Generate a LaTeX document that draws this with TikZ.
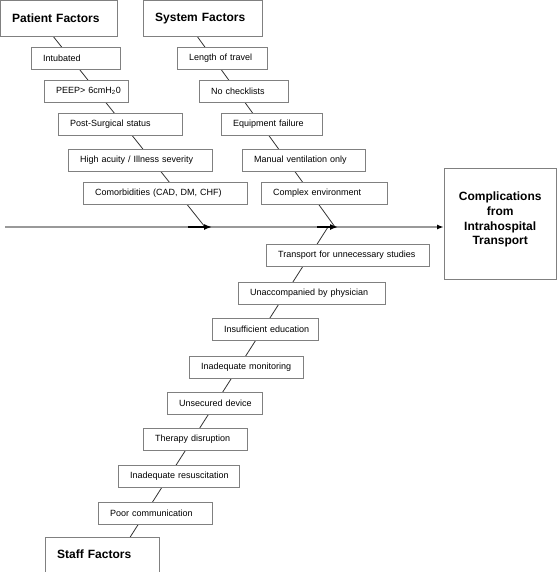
\documentclass[tikz,border=0pt]{standalone}
\usepackage{fontspec}
\setmainfont{Liberation Sans}
\usetikzlibrary{arrows.meta,backgrounds}
\definecolor{boxgray}{gray}{0.5}
\definecolor{spinegray}{gray}{0.6}
\definecolor{bonegray}{gray}{0.2}
\tikzset{
  cause/.style={draw=boxgray, fill=white, font=\fontsize{9}{11}\selectfont, inner xsep=0pt, inner ysep=0pt,
    minimum height=22pt, align=left, anchor=north west, execute at begin node=\hspace*{12pt}},
  head/.style={cause, font=\bfseries\fontsize{12}{14}\selectfont, minimum height=36pt},
  bone/.style={draw=bonegray, line width=0.8pt},
  spine/.style={draw=spinegray, line width=1.5pt},
  tip/.style={line width=1.5pt, -{Latex[length=8pt,width=6pt]}},
}
\begin{document}
\begin{tikzpicture}[x=1pt,y=-1pt]
\useasboundingbox (0,0) rectangle (557,572);

% patient factors
\node[head, text width=117pt](patient) at (0,0) {Patient Factors};
\node[cause, text width=89pt](intub) at (31,47) {Intubated};
\node[cause, text width=84pt](peep) at (44,80) {PEEP> 6cmH\textsubscript{2}0};
\node[cause, text width=124pt](postsurg) at (58,113) {Post-Surgical status};
\node[cause, text width=144pt](acuity) at (68,149) {High acuity / Illness severity};
\node[cause, text width=164pt](comorb) at (83,182) {Comorbidities (CAD, DM, CHF)};

% system factors
\node[head, text width=119pt](system) at (143,0) {System Factors};
\node[cause, text width=90pt](travel) at (177,47) {Length of travel};
\node[cause, text width=89pt](checklist) at (199,80) {No checklists};
\node[cause, text width=101pt](equip) at (221,113) {Equipment failure};
\node[cause, text width=123pt](manual) at (242,149) {Manual ventilation only};
\node[cause, text width=126pt](complex) at (261,182) {Complex environment};

% staff factors
\node[cause, text width=163pt](transp) at (266,244) {Transport for unnecessary studies};
\node[cause, text width=147pt](unacc) at (238,282) {Unaccompanied by physician};
\node[cause, text width=106pt](insuff) at (212,318) {Insufficient education};
\node[cause, text width=114pt](monitor) at (189,356) {Inadequate monitoring};
\node[cause, text width=95pt](unsec) at (167,392) {Unsecured device};
\node[cause, text width=104pt](therapy) at (143,428) {Therapy disruption};
\node[cause, text width=121pt](resus) at (118,465) {Inadequate resuscitation};
\node[cause, text width=114pt](poor) at (98,502) {Poor communication};
\node[head, text width=114pt, minimum height=35pt](staff) at (45,537) {Staff Factors};

% effect
\node[draw=boxgray, anchor=north west, minimum width=112pt, minimum height=111pt,
  label={[yshift=4pt, align=center, font=\bfseries\fontsize{12}{14.7}\selectfont]center:Complications\\from\\Intrahospital\\Transport}](outcome) at (444,168) {};

\coordinate (start) at (5,227);
\coordinate (pjoin) at (205,227);
\coordinate (sjoin) at (335,227);
\coordinate (tjoin) at (328,227);

\draw[spine, -{Latex[length=7pt,width=5pt,black]}] (start) -- (outcome.west |- start);
\draw[tip] ([xshift=-17pt]pjoin) -- ([xshift=7pt]pjoin);
\draw[tip] ([xshift=-18pt]sjoin) -- ([xshift=3pt]sjoin);

\begin{pgfonlayer}{background}
\draw[bone] ([xshift=-5.5pt]patient.south) -- (pjoin);
\draw[bone] ([xshift=-5.5pt]system.south) -- (sjoin);
\draw[bone] (tjoin) -- ([xshift=28pt]staff.north);
\end{pgfonlayer}
\end{tikzpicture}
\end{document}
